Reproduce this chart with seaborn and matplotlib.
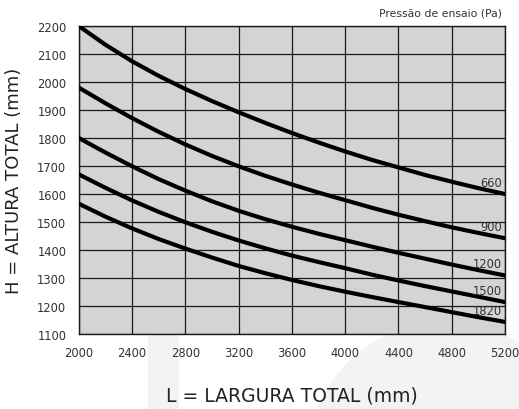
import matplotlib
matplotlib.use("Agg")
import matplotlib.pyplot as plt
from matplotlib.patches import Rectangle, Ellipse
import seaborn as sns
import pandas as pd

# L = largura total (mm)
largura = [2000, 2200, 2400, 2600, 2800, 3000, 3200, 3400, 3600,
           3800, 4000, 4200, 4400, 4600, 4800, 5000, 5200]

# H = altura total (mm) for each pressão de ensaio (Pa)
h_660 = [2200, 2133, 2074, 2022, 1975, 1932, 1892, 1854, 1818,
         1784, 1752, 1722, 1695, 1668, 1644, 1621, 1600]
h_900 = [1980, 1924, 1871, 1822, 1777, 1736, 1699, 1665, 1634,
         1605, 1578, 1551, 1526, 1503, 1481, 1461, 1442]
h_1200 = [1800, 1748, 1699, 1653, 1612, 1574, 1540, 1510, 1483,
          1458, 1435, 1412, 1390, 1369, 1348, 1328, 1309]
h_1500 = [1670, 1622, 1577, 1536, 1499, 1465, 1434, 1406, 1380,
          1357, 1335, 1312, 1291, 1271, 1252, 1233, 1214]
h_1820 = [1565, 1519, 1477, 1439, 1405, 1373, 1343, 1317, 1293,
          1271, 1251, 1232, 1214, 1196, 1178, 1160, 1143]

pressoes = ["660", "900", "1200", "1500", "1820"]
series = [h_660, h_900, h_1200, h_1500, h_1820]

x_ticks = [2000, 2400, 2800, 3200, 3600, 4000, 4400, 4800, 5200]
y_ticks = list(range(1100, 2201, 100))

rows = []
for p, vals in zip(pressoes, series):
    for l, h in zip(largura, vals):
        rows.append({"L": l, "H": h, "Pa": p})
df = pd.DataFrame(rows)

sns.set_theme(style="white")
plt.rcParams['font.family'] = ['DejaVu Sans']

fig = plt.figure(figsize=(5.19, 4.10), dpi=100)

# faint watermark shapes behind the chart
fig.add_artist(Rectangle((0.285, 0.0), 0.058, 0.19, transform=fig.transFigure,
                         color="#f3f3f3", zorder=0))
fig.add_artist(Ellipse((0.86, -0.10), 0.52, 0.62, transform=fig.transFigure,
                       color="#f3f3f3", zorder=0))

ax = fig.add_axes([0.152, 0.183, 0.821, 0.751])
ax.set_facecolor("#d4d4d6")

sns.lineplot(data=df, x="L", y="H", hue="Pa", palette=["black"] * 5,
             linewidth=3.0, legend=False, ax=ax, zorder=3)

ax.set_xlim(2000, 5200)
ax.set_ylim(1100, 2200)
ax.set_xticks(x_ticks)
ax.set_yticks(y_ticks)
ax.grid(True, color="#1a1a1a", linewidth=0.9, zorder=1)
ax.set_axisbelow(True)
for s in ax.spines.values():
    s.set_color("#1a1a1a")
    s.set_linewidth(1.0)
ax.tick_params(length=0, labelsize=8.3, colors="#333333", pad=9)

ax.set_xlabel("L = LARGURA TOTAL (mm)", fontsize=13.5, color="#222222", labelpad=19)
ax.set_ylabel("H = ALTURA TOTAL (mm)", fontsize=13, color="#222222", labelpad=10)

# pressure labels at curve ends
for p, vals in zip(pressoes, series):
    ax.annotate(p, xy=(largura[-1], vals[-1]), xytext=(-2, 6),
                textcoords="offset points", ha="right", va="baseline",
                fontsize=8.3, color="#333333", zorder=4)

fig.text(0.967, 0.968, "Pressão de ensaio (Pa)", ha="right", va="center",
         fontsize=7.8, color="#333333")

fig.savefig("out.png", dpi=100)
